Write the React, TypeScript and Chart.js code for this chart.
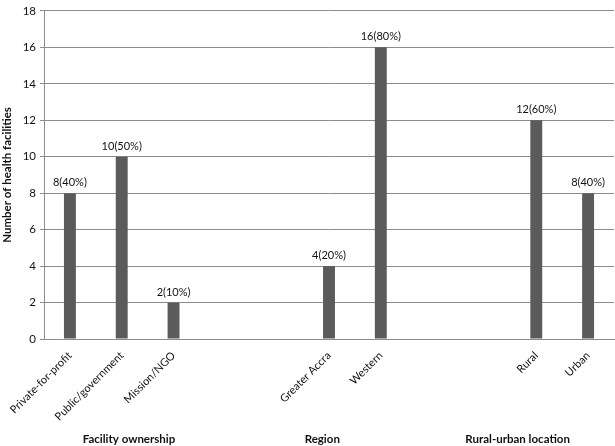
import React, { useEffect, useRef } from "react";
import { Chart, registerables } from "chart.js";

Chart.register(...registerables);

const categories = [
  "Private-for-profit",
  "Public/government",
  "Mission/NGO",
  "",
  "",
  "Greater Accra",
  "Western",
  "",
  "",
  "Rural",
  "Urban",
];
const counts: (number | null)[] = [8, 10, 2, null, null, 4, 16, null, null, 12, 8];
const percents: (number | null)[] = [40, 50, 10, null, null, 20, 80, null, null, 60, 40];
const groupLabels = ["Facility ownership", "Region", "Rural-urban location"];
const groupPositions = [1.14, 4.87, 8.64];
const yTicks = [0, 2, 4, 6, 8, 10, 12, 14, 16, 18];

const FONT = "Lato, 'Open Sans', sans-serif";

const labelPlugin = {
  id: "labels",
  afterDatasetsDraw(chart: any) {
    const ctx = chart.ctx;
    const meta = chart.getDatasetMeta(0);
    ctx.save();
    ctx.font = `11px ${FONT}`;
    ctx.fillStyle = "#111";
    ctx.textAlign = "center";
    ctx.textBaseline = "bottom";
    meta.data.forEach((bar: any, i: number) => {
      if (counts[i] == null) return;
      ctx.fillText(`${counts[i]}(${percents[i]}%)`, bar.x, bar.y - 5);
    });
    const xs = chart.scales.x;
    ctx.font = `bold 11.5px ${FONT}`;
    ctx.textBaseline = "middle";
    groupLabels.forEach((g, i) => {
      ctx.fillText(g, xs.getPixelForValue(groupPositions[i]), 439);
    });
    ctx.restore();
  },
};

export default function App() {
  const ref = useRef<HTMLCanvasElement | null>(null);
  useEffect(() => {
    if (!ref.current) return;
    const chart = new Chart(ref.current, {
      type: "bar",
      data: {
        labels: categories,
        datasets: [
          {
            data: counts,
            backgroundColor: "#5b5b5b",
            barPercentage: 0.46,
            categoryPercentage: 0.5,
          },
        ],
      },
      options: {
        animation: false,
        responsive: false,
        maintainAspectRatio: false,
        layout: { padding: { top: 7, right: 1, left: 0, bottom: 0 } },
        plugins: {
          legend: { display: false },
          tooltip: { enabled: false },
        },
        scales: {
          x: {
            grid: { display: false },
            border: { color: "#8c8c8c" },
            ticks: {
              minRotation: 45,
              maxRotation: 45,
              autoSkip: false,
              color: "#111",
              font: { family: FONT, size: 11 },
              padding: 2,
            },
            afterFit(scale: any) {
              scale.height = 107;
            },
          },
          y: {
            min: 0,
            max: 18,
            afterBuildTicks(scale: any) {
              scale.ticks = yTicks.map((v) => ({ value: v }));
            },
            grid: { color: "#8c8c8c", tickLength: 4 },
            border: { color: "#8c8c8c" },
            ticks: {
              color: "#111",
              font: { family: FONT, size: 11.5 },
              padding: 4,
            },
            title: {
              display: true,
              text: "Number of health facilities",
              color: "#111",
              font: { family: FONT, size: 11.5, weight: "bold" },
              padding: { top: 0, bottom: 4 },
            },
            afterFit(scale: any) {
              scale.width = 44;
            },
          },
        },
      },
      plugins: [labelPlugin],
    });
    return () => chart.destroy();
  }, []);
  return (
    <div style={{ position: "fixed", left: 0, top: 0, width: 615, height: 446, background: "#fff" }}>
      <canvas ref={ref} width={615} height={446} />
    </div>
  );
}
